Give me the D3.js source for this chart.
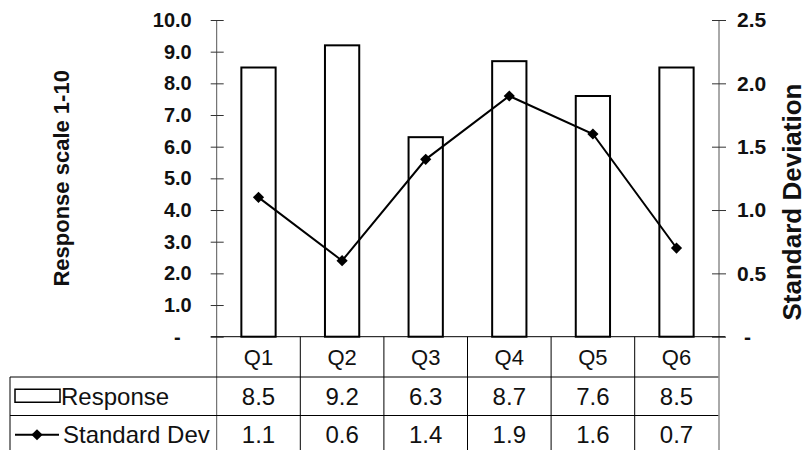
<!DOCTYPE html>
<html>
<head>
<meta charset="utf-8">
<script src="https://cdn.jsdelivr.net/npm/d3@7"></script>
<style>
  html, body { margin: 0; padding: 0; background: #fff; }
  svg { display: block; font-family: "Liberation Sans", Arial, sans-serif; }
</style>
</head>
<body>
<svg id="chart" width="806" height="450"></svg>
<script>
// Survey results: mean response (bars, left axis) and standard deviation (line, right axis)
const categories = ["Q1", "Q2", "Q3", "Q4", "Q5", "Q6"];
const responseValues = [8.5, 9.2, 6.3, 8.7, 7.6, 8.5];
const stdDevValues = [1.1, 0.6, 1.4, 1.9, 1.6, 0.7];
const leftTicks = [0, 1, 2, 3, 4, 5, 6, 7, 8, 9, 10];
const leftTickLabels = ["-", "1.0", "2.0", "3.0", "4.0", "5.0", "6.0", "7.0", "8.0", "9.0", "10.0"];
const rightTicks = [0, 0.5, 1, 1.5, 2, 2.5];
const rightTickLabels = ["-", "0.5", "1.0", "1.5", "2.0", "2.5"];
const seriesNames = ["Response", "Standard Dev"];
const leftTitle = "Response scale 1-10";
const rightTitle = "Standard Deviation";

const svg = d3.select("#chart");

const plot = { left: 216.7, right: 718.3, top: 20, bottom: 336.7 };
const tableLeft = 10;
const rowLines = [336.7, 377, 415.5, 454];

const x = d3.scaleBand().domain(categories).range([plot.left, plot.right]).padding(0);
const yL = d3.scaleLinear().domain([0, 10]).range([plot.bottom, plot.top]);
const yR = d3.scaleLinear().domain([0, 2.5]).range([plot.bottom, plot.top]);
const barW = x.bandwidth() * 0.41;

// Bars
svg.append("g").selectAll("rect")
  .data(responseValues)
  .join("rect")
  .attr("x", (d, i) => x(categories[i]) + (x.bandwidth() - barW) / 2)
  .attr("y", d => yL(d))
  .attr("width", barW)
  .attr("height", d => yL(0) - yL(d))
  .attr("fill", "#fff")
  .attr("stroke", "#000")
  .attr("stroke-width", 2);

// Left axis
const axL = svg.append("g")
  .attr("transform", `translate(${plot.left},0)`)
  .call(d3.axisLeft(yL).tickValues(leftTicks)
    .tickFormat((d, i) => leftTickLabels[i]).tickSize(6).tickPadding(19));
axL.select(".domain").attr("stroke", "#555").attr("d", `M0,${plot.top}V${rowLines[3]}`);
axL.selectAll(".tick line").attr("x1", -6).attr("x2", 7).attr("stroke", "#333");
axL.selectAll(".tick text")
  .attr("font-size", 20).attr("font-weight", "bold").attr("fill", "#111")
  .attr("font-family", "Liberation Sans, Arial, sans-serif");
axL.selectAll(".tick").filter(d => d === 0).select("text").attr("dx", -11);

// Right axis
const axR = svg.append("g")
  .attr("transform", `translate(${plot.right + 0.7},0)`)
  .call(d3.axisRight(yR).tickValues(rightTicks)
    .tickFormat((d, i) => rightTickLabels[i]).tickSize(7).tickPadding(11));
axR.select(".domain").attr("stroke", "#555").attr("d", `M0,${plot.top}V${rowLines[3]}`);
axR.selectAll(".tick line").attr("x1", -7).attr("x2", 7).attr("stroke", "#333");
axR.selectAll(".tick text")
  .attr("font-size", 21).attr("font-weight", "bold").attr("fill", "#111")
  .attr("font-family", "Liberation Sans, Arial, sans-serif");
axR.selectAll(".tick").filter(d => d === 0).select("text").attr("dx", 7);

// Standard deviation line with diamond markers
const cx = (d, i) => x(categories[i]) + x.bandwidth() / 2;
svg.append("path")
  .datum(stdDevValues)
  .attr("d", d3.line().x(cx).y(d => yR(d)))
  .attr("fill", "none").attr("stroke", "#000").attr("stroke-width", 2);
const diamond = d3.symbol().type(d3.symbolDiamond2).size(80);
svg.append("g").selectAll("path")
  .data(stdDevValues)
  .join("path")
  .attr("d", diamond)
  .attr("transform", (d, i) => `translate(${cx(d, i)},${yR(d)})`)
  .attr("fill", "#000");

// Data table grid
const grid = svg.append("g").attr("stroke", "#000").attr("stroke-width", 1).attr("fill", "none");
grid.append("line").attr("x1", plot.left - 6).attr("x2", plot.right + 7)
  .attr("y1", rowLines[0]).attr("y2", rowLines[0]);
rowLines.slice(1).forEach(yv => {
  grid.append("line").attr("x1", tableLeft).attr("x2", plot.right)
    .attr("y1", yv).attr("y2", yv);
});
grid.append("line").attr("x1", tableLeft).attr("x2", tableLeft)
  .attr("y1", rowLines[1]).attr("y2", rowLines[3]);
categories.slice(1).forEach(c => {
  grid.append("line").attr("x1", x(c)).attr("x2", x(c))
    .attr("y1", rowLines[0]).attr("y2", rowLines[3]);
});

// Category labels
svg.append("g").selectAll("text")
  .data(categories)
  .join("text")
  .attr("x", c => x(c) + x.bandwidth() / 2)
  .attr("y", (rowLines[0] + rowLines[1]) / 2)
  .attr("dy", "0.36em")
  .attr("text-anchor", "middle")
  .attr("font-size", 22)
  .attr("fill", "#111")
  .text(c => c);

// Table values
[responseValues, stdDevValues].forEach((vals, r) => {
  svg.append("g").selectAll("text")
    .data(vals)
    .join("text")
    .attr("x", (d, i) => x(categories[i]) + x.bandwidth() / 2)
    .attr("y", (rowLines[r + 1] + rowLines[r + 2]) / 2)
    .attr("dy", "0.36em")
    .attr("text-anchor", "middle")
    .attr("font-size", 24)
    .attr("fill", "#111")
    .text(d => d.toFixed(1));
});

// Legend keys inside the table
const row1 = (rowLines[1] + rowLines[2]) / 2;
const row2 = (rowLines[2] + rowLines[3]) / 2;
svg.append("rect").attr("x", 15).attr("y", row1 - 7).attr("width", 45).attr("height", 13)
  .attr("fill", "#fff").attr("stroke", "#000").attr("stroke-width", 1.5);
svg.append("line").attr("x1", 15).attr("x2", 59).attr("y1", row2).attr("y2", row2)
  .attr("stroke", "#000").attr("stroke-width", 2);
svg.append("path").attr("d", diamond).attr("transform", `translate(37,${row2})`).attr("fill", "#000");
svg.append("g").selectAll("text")
  .data(seriesNames)
  .join("text")
  .attr("x", (d, i) => i === 0 ? 61 : 63)
  .attr("y", (d, i) => i === 0 ? row1 : row2)
  .attr("dy", "0.36em")
  .attr("font-size", 24)
  .attr("fill", "#111")
  .text(d => d);

// Axis titles
svg.append("text")
  .attr("transform", `translate(69,${(plot.top + plot.bottom) / 2}) rotate(-90)`)
  .attr("text-anchor", "middle")
  .attr("font-size", 22).attr("font-weight", "bold").attr("fill", "#111")
  .text(leftTitle);
svg.append("text")
  .attr("transform", `translate(801,202) rotate(-90)`)
  .attr("text-anchor", "middle")
  .attr("font-size", 26).attr("font-weight", "bold").attr("fill", "#111")
  .text(rightTitle);
</script>
</body>
</html>
